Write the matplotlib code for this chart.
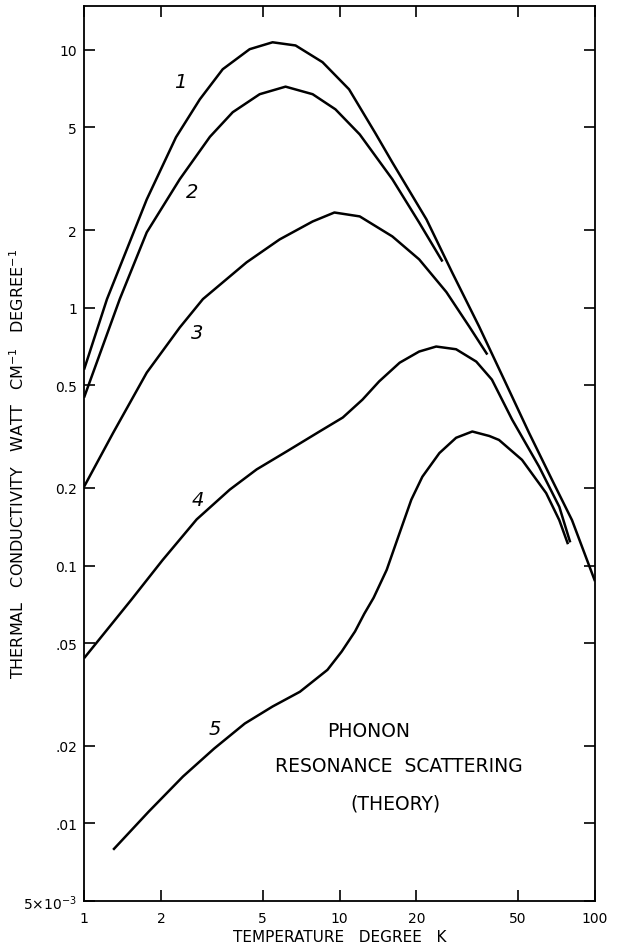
import matplotlib
matplotlib.use("Agg")
import matplotlib.pyplot as plt
import numpy as np

# temperaturas (K) e condutividade (W cm^-1 K^-1)
t1 = [1.0, 1.23, 1.76, 2.29, 2.84, 3.49, 4.45, 5.47, 6.73, 8.58, 10.9, 13.8, 16.1, 21.9, 27.6, 35.2, 44.1, 55.2, 67.9, 81.3, 100]
k1 = [0.575, 1.08, 2.63, 4.58, 6.43, 8.41, 10.06, 10.7, 10.4, 8.96, 7.03, 4.76, 3.66, 2.2, 1.37, 0.845, 0.526, 0.327, 0.215, 0.150, 0.087]

t2 = [1.0, 1.38, 1.76, 2.37, 3.11, 3.82, 4.87, 6.15, 7.85, 9.64, 12.0, 16.1, 20.5, 25.3]
k2 = [0.448, 1.08, 1.96, 3.15, 4.6, 5.73, 6.73, 7.2, 6.73, 5.88, 4.7, 3.15, 2.14, 1.51]

t3 = [1.0, 1.30, 1.76, 2.37, 2.92, 4.33, 5.83, 7.85, 9.55, 12.0, 16.1, 20.5, 26.2, 32.2, 37.9]
k3 = [0.202, 0.327, 0.56, 0.838, 1.08, 1.50, 1.84, 2.16, 2.34, 2.26, 1.89, 1.54, 1.15, 0.845, 0.658]

t4 = [1.0, 1.53, 2.03, 2.76, 3.72, 4.74, 6.21, 8.35, 10.3, 12.3, 14.3, 17.2, 20.5, 23.9, 28.6, 34.3, 39.5, 47.4, 60.4, 72.5, 80.0]
k4 = [0.0437, 0.0736, 0.105, 0.151, 0.197, 0.236, 0.277, 0.331, 0.375, 0.440, 0.518, 0.612, 0.676, 0.707, 0.69, 0.618, 0.526, 0.368, 0.242, 0.169, 0.123]

t5 = [1.30, 1.79, 2.44, 3.23, 4.26, 5.47, 7.0, 8.97, 10.2, 11.5, 12.5, 13.6, 15.3, 17.2, 19.1, 21.1, 24.6, 28.6, 33.1, 38.6, 42.1, 51.8, 64.4, 72.5, 78.4]
k5 = [0.0079, 0.0111, 0.0152, 0.0195, 0.0244, 0.0284, 0.0324, 0.0394, 0.0464, 0.0555, 0.065, 0.075, 0.0962, 0.134, 0.180, 0.221, 0.273, 0.313, 0.331, 0.318, 0.307, 0.257, 0.191, 0.150, 0.121]

curvas = [(t1, k1), (t2, k2), (t3, k3), (t4, k4), (t5, k5)]

# rotulos das curvas e onde ficam
nomes = ['1', '2', '3', '4', '5']
pos_nomes = [(2.37, 7.55), (2.64, 2.82), (2.76, 0.80), (2.79, 0.180), (3.25, 0.0234)]

xticks = [1, 2, 5, 10, 20, 50, 100]
xtick_labels = ['1', '2', '5', '10', '20', '50', '100']
yticks = [5e-3, 0.01, 0.02, 0.05, 0.1, 0.2, 0.5, 1, 2, 5, 10]
ytick_labels = ['5\u00d710$^{-3}$', '.01', '.02', '.05', '0.1', '0.2', '0.5', '1', '2', '5', '10']


def main():
    fig = plt.figure(figsize=(6.21, 9.53), dpi=100)
    ax = fig.add_axes([0.1353, 0.0535, 0.8228, 0.9392])

    for t, k in curvas:
        ax.plot(t, k, color='black', lw=1.8, solid_capstyle='butt', solid_joinstyle='round')

    ax.set_xscale('log')
    ax.set_yscale('log')
    ax.set_xlim(1, 100)
    ax.set_ylim(5e-3, 14.8)

    ax.xaxis.set_major_locator(matplotlib.ticker.FixedLocator(xticks))
    ax.xaxis.set_major_formatter(matplotlib.ticker.FixedFormatter(xtick_labels))
    ax.yaxis.set_major_locator(matplotlib.ticker.FixedLocator(yticks))
    ax.yaxis.set_major_formatter(matplotlib.ticker.FixedFormatter(ytick_labels))
    ax.xaxis.set_minor_locator(matplotlib.ticker.NullLocator())
    ax.yaxis.set_minor_locator(matplotlib.ticker.NullLocator())

    ax.tick_params(which='major', direction='in', length=8, width=1.2,
                   top=True, right=True, labelsize=10)
    ax.tick_params(axis='x', pad=7)
    ax.tick_params(axis='y', pad=5)
    for s in ax.spines.values():
        s.set_linewidth(1.3)

    ax.set_xlabel('TEMPERATURE   DEGREE   K', fontsize=11, labelpad=3)
    ax.set_ylabel('THERMAL   CONDUCTIVITY   WATT   CM$^{-1}$   DEGREE$^{-1}$', fontsize=11.5)
    # o rotulo do eixo y fica por cima do 5x10^-3, como no original
    ax.yaxis.set_label_coords(-0.112, 0.49)

    for n, (x, y) in zip(nomes, pos_nomes):
        ax.text(x, y, n, fontsize=14, style='italic', ha='center', va='center')

    ax.text(13.0, 0.0230, 'PHONON', fontsize=13.5, ha='center', va='center')
    ax.text(17.1, 0.01683, 'RESONANCE  SCATTERING', fontsize=13.5, ha='center', va='center')
    ax.text(16.6, 0.01205, '(THEORY)', fontsize=13.5, ha='center', va='center')

    fig.savefig('out.png', dpi=100)


if __name__ == '__main__':
    main()
